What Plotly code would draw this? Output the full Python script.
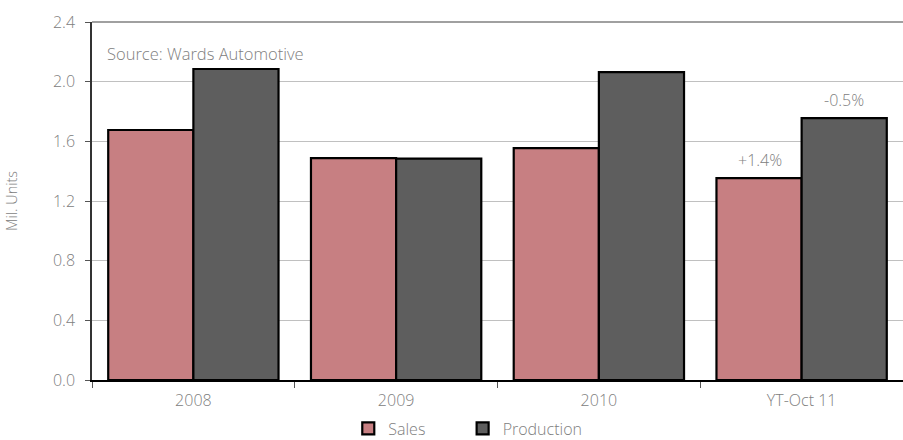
import plotly.graph_objects as go

categories = ["2008", "2009", "2010", "YT-Oct 11"]
sales = [1.676, 1.488, 1.555, 1.354]
production = [2.085, 1.484, 2.064, 1.756]
y_ticks = [0.0, 0.4, 0.8, 1.2, 1.6, 2.0, 2.4]
y_tick_labels = ["0.0", "0.4", "0.8", "1.2", "1.6", "2.0", "2.4"]
change_labels = {"sales": "+1.4%", "production": "-0.5%"}

FONT = "Open Sans"
GRAY = "#808080"

def f(size):
    return dict(family=FONT, size=size, color=GRAY, weight=300)

fig = go.Figure()
fig.add_trace(go.Bar(name="Sales", x=categories, y=sales, legend="legend",
                     marker=dict(color="#C77F82", line=dict(color="black", width=2.2))))
fig.add_trace(go.Bar(name="Production", x=categories, y=production, legend="legend2",
                     marker=dict(color="#5E5E5E", line=dict(color="black", width=2.2))))

fig.add_annotation(x=categories[3], y=sales[3], text=change_labels["sales"], xshift=-42,
                   yshift=5, showarrow=False, yanchor="bottom", font=f(16))
fig.add_annotation(x=categories[3], y=production[3], text=change_labels["production"], xshift=42,
                   yshift=5, showarrow=False, yanchor="bottom", font=f(16))
fig.add_annotation(xref="paper", yref="paper", x=0.016, y=0.913, text="Source: Wards Automotive",
                   showarrow=False, xanchor="left", yanchor="middle", font=f(16.5))
fig.add_shape(type="line", xref="paper", yref="paper", x0=0, x1=1, y0=1, y1=1,
              line=dict(color="#808080", width=1.5))

legend_common = dict(orientation="h", xanchor="left", y=-0.088, yanchor="top",
                     font=f(16), itemwidth=30, bgcolor="rgba(0,0,0,0)")

fig.update_layout(
    width=903, height=440,
    margin=dict(l=92, r=0, t=22, b=60, autoexpand=False),
    plot_bgcolor="white", paper_bgcolor="white",
    barmode="group", bargap=0.16, bargroupgap=0,
    font=f(16),
    showlegend=True,
    legend=dict(x=0.316, **legend_common),
    legend2=dict(x=0.457, **legend_common),
    xaxis=dict(showline=True, linecolor="black", linewidth=1.5,
               ticks="outside", tickson="boundaries", ticklen=6, tickcolor="#555",
               ticklabelstandoff=5,
               showgrid=False, tickfont=f(16)),
    yaxis=dict(range=[0, 2.4], tickvals=y_ticks, ticktext=y_tick_labels,
               showline=True, linecolor="#333", linewidth=1.5,
               ticks="outside", ticklen=5, tickcolor="#555", ticklabelstandoff=7,
               showgrid=True, gridcolor="#c0c0c0", gridwidth=1, zeroline=False,
               tickfont=f(16),
               title=dict(text="Mil. Units", font=f(14.5), standoff=32)),
)

fig.write_html("out.html")
